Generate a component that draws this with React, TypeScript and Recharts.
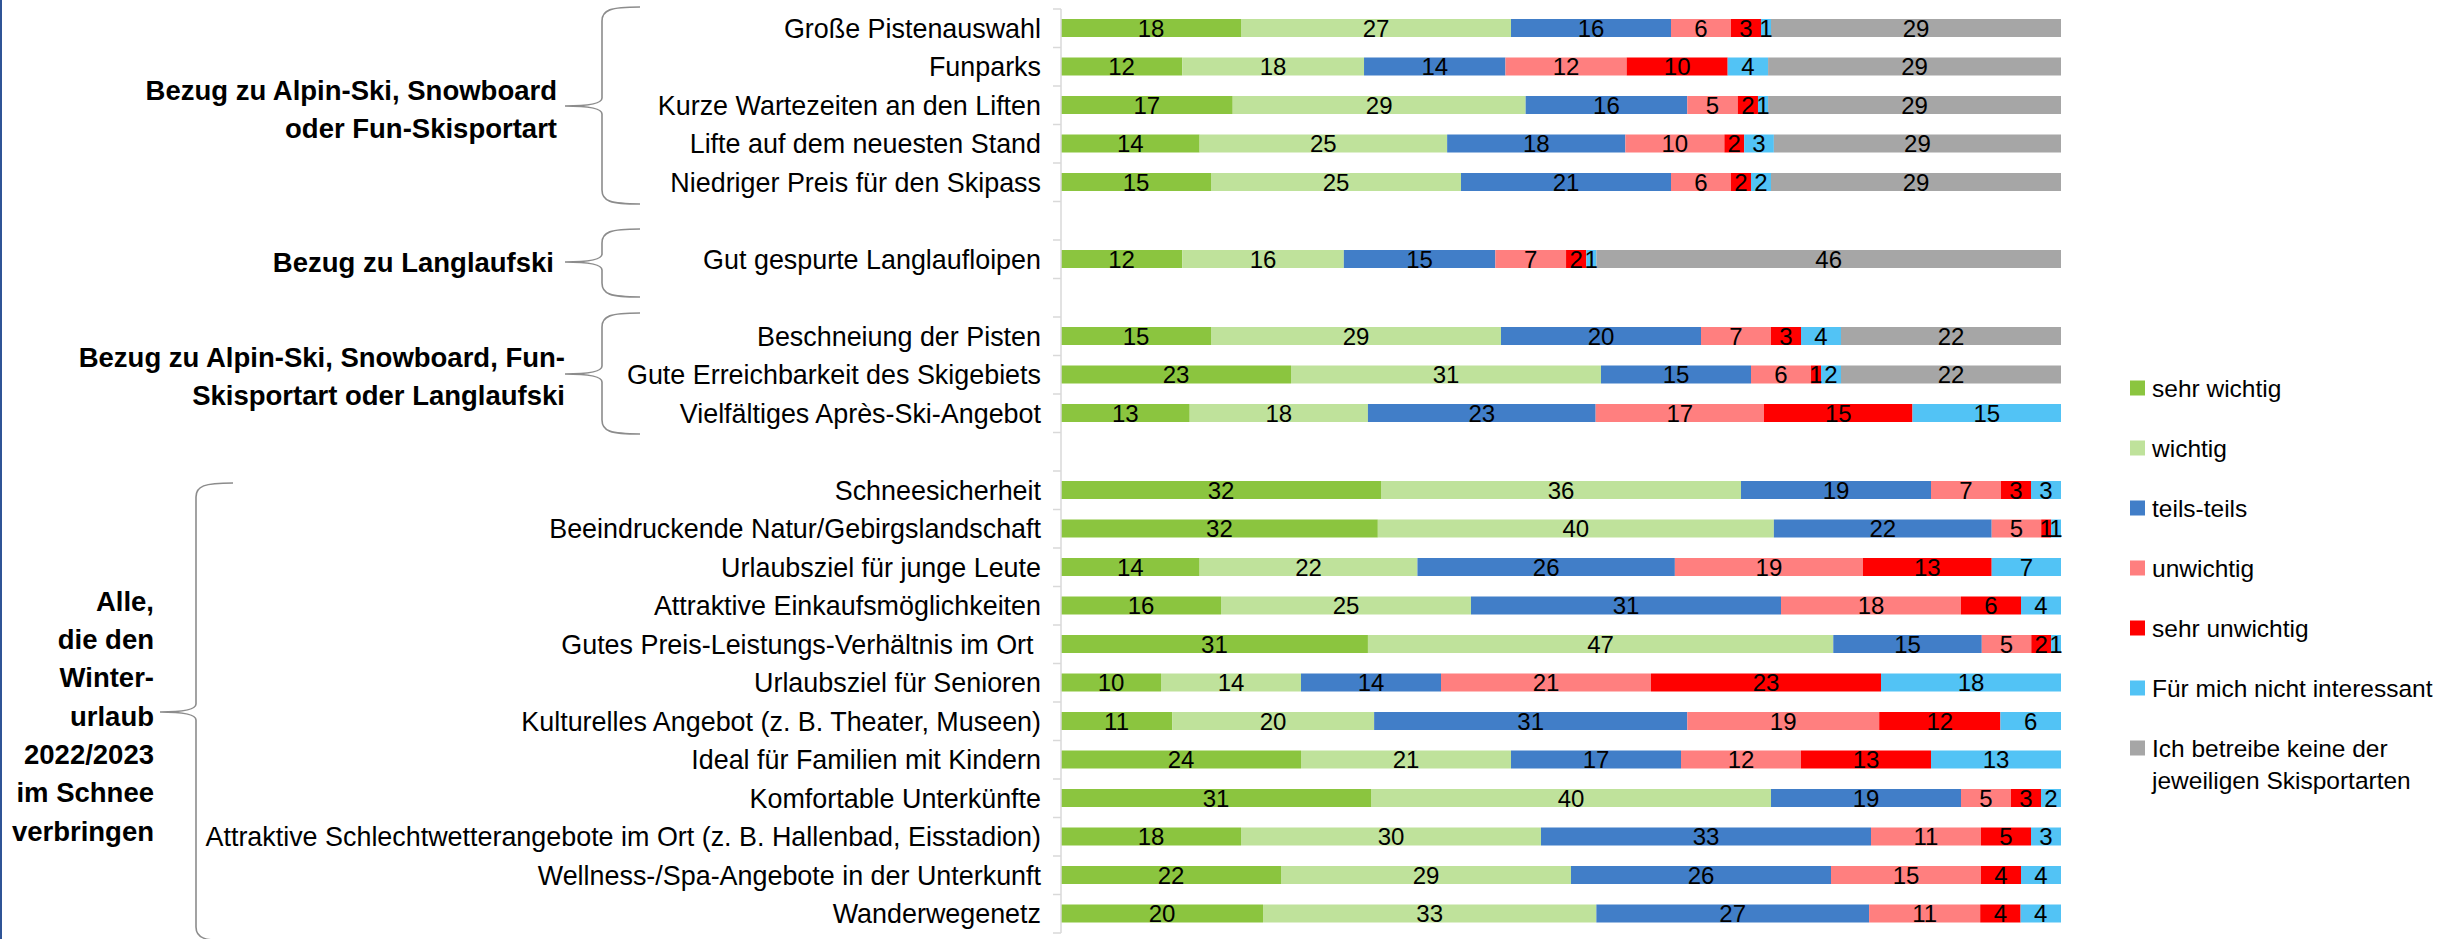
import React from "react";
import { BarChart, Bar, XAxis, YAxis, LabelList } from "recharts";

const categories = [
  "Große Pistenauswahl",
  "Funparks",
  "Kurze Wartezeiten an den Liften",
  "Lifte auf dem neuesten Stand",
  "Niedriger Preis für den Skipass",
  "",
  "Gut gespurte Langlaufloipen",
  "",
  "Beschneiung der Pisten",
  "Gute Erreichbarkeit des Skigebiets",
  "Vielfältiges Après-Ski-Angebot",
  "",
  "Schneesicherheit",
  "Beeindruckende Natur/Gebirgslandschaft",
  "Urlaubsziel für junge Leute",
  "Attraktive Einkaufsmöglichkeiten",
  "Gutes Preis-Leistungs-Verhältnis im Ort\u00A0",
  "Urlaubsziel für Senioren",
  "Kulturelles Angebot (z. B. Theater, Museen)",
  "Ideal für Familien mit Kindern",
  "Komfortable Unterkünfte",
  "Attraktive Schlechtwetterangebote im Ort (z. B. Hallenbad, Eisstadion)",
  "Wellness-/Spa-Angebote in der Unterkunft",
  "Wanderwegenetz",
];

const sehrWichtig = [18, 12, 17, 14, 15, null, 12, null, 15, 23, 13, null, 32, 32, 14, 16, 31, 10, 11, 24, 31, 18, 22, 20];
const wichtig = [27, 18, 29, 25, 25, null, 16, null, 29, 31, 18, null, 36, 40, 22, 25, 47, 14, 20, 21, 40, 30, 29, 33];
const teilsTeils = [16, 14, 16, 18, 21, null, 15, null, 20, 15, 23, null, 19, 22, 26, 31, 15, 14, 31, 17, 19, 33, 26, 27];
const unwichtig = [6, 12, 5, 10, 6, null, 7, null, 7, 6, 17, null, 7, 5, 19, 18, 5, 21, 19, 12, 5, 11, 15, 11];
const sehrUnwichtig = [3, 10, 2, 2, 2, null, 2, null, 3, 1, 15, null, 3, 1, 13, 6, 2, 23, 12, 13, 3, 5, 4, 4];
const nichtInteressant = [1, 4, 1, 3, 2, null, 1, null, 4, 2, 15, null, 3, 1, 7, 4, 1, 18, 6, 13, 2, 3, 4, 4];
const keineSkisportart = [29, 29, 29, 29, 29, null, 46, null, 22, 22, null, null, null, null, null, null, null, null, null, null, null, null, null, null];

const seriesNames = [
  "sehr wichtig",
  "wichtig",
  "teils-teils",
  "unwichtig",
  "sehr unwichtig",
  "Für mich nicht interessant",
  "Ich betreibe keine der jeweiligen Skisportarten",
];
const seriesKeys = ["sw", "w", "tt", "uw", "suw", "ni", "ks"];
const seriesValues = [sehrWichtig, wichtig, teilsTeils, unwichtig, sehrUnwichtig, nichtInteressant, keineSkisportart];
const seriesColors = ["#8BC53F", "#BFE29B", "#417EC8", "#FF7F7F", "#FF0000", "#52C3F5", "#A6A6A6"];

const groupLabels = [
  ["Bezug zu Alpin-Ski, Snowboard", "oder Fun-Skisportart"],
  ["Bezug zu Langlaufski"],
  ["Bezug zu Alpin-Ski, Snowboard, Fun-", "Skisportart oder Langlaufski"],
  ["Alle,", "die den", "Winter-", "urlaub", "2022/2023", "im Schnee", "verbringen"],
];

const data = categories.map((name, i) => {
  const row: Record<string, any> = { name };
  seriesKeys.forEach((k, s) => {
    row[k] = seriesValues[s][i];
  });
  return row;
});

const FONT = "'Liberation Sans', Arial, sans-serif";
const W = 2458;
const H = 939;
const PLOT_TOP = 9;
const PLOT_BOTTOM = 933;
const AXIS_X = 1061;
const PLOT_RIGHT = 2061;
const PITCH = (PLOT_BOTTOM - PLOT_TOP) / categories.length;
const CFS = 26.9;

function CategoryTick(props: any) {
  const { y, index } = props;
  const label = categories[index] ?? "";
  const isLast = index === categories.length - 1;
  return (
    <g>
      <line x1={AXIS_X - 8} x2={AXIS_X} y1={y - PITCH / 2} y2={y - PITCH / 2} stroke="#d9d9d9" strokeWidth={1.5} />
      {isLast && (
        <line x1={AXIS_X - 8} x2={AXIS_X} y1={y + PITCH / 2} y2={y + PITCH / 2} stroke="#d9d9d9" strokeWidth={1.5} />
      )}
      {label && (
        <text
          x={AXIS_X - 20}
          y={y + CFS * 0.355}
          textAnchor="end"
          fontSize={CFS}
          fontFamily={FONT}
          fill="#000"
          style={{ whiteSpace: "pre" }}
        >
          {label}
        </text>
      )}
    </g>
  );
}

function bracePath(xv: number, xr: number, top: number, bottom: number, xt: number, yt: number) {
  return [
    `M ${xr} ${top}`,
    `C ${xv + 8} ${top}, ${xv} ${top + 3}, ${xv} ${top + 14}`,
    `L ${xv} ${yt - 8}`,
    `C ${xv} ${yt - 3}, ${xv - 12} ${yt}, ${xt} ${yt}`,
    `C ${xv - 12} ${yt}, ${xv} ${yt + 3}, ${xv} ${yt + 8}`,
    `L ${xv} ${bottom - 14}`,
    `C ${xv} ${bottom - 3}, ${xv + 8} ${bottom}, ${xr} ${bottom}`,
  ].join(" ");
}

const braces = [
  { xv: 602, xr: 640, top: 7, bottom: 204, xt: 565, yt: 106 },
  { xv: 602, xr: 640, top: 229, bottom: 297, xt: 565, yt: 262 },
  { xv: 602, xr: 640, top: 313, bottom: 434, xt: 565, yt: 374 },
  { xv: 196, xr: 233, top: 483, bottom: 941, xt: 160, yt: 712 },
];

const groupLayout = [
  { right: 557, firstY: 90, step: 38 },
  { right: 554, firstY: 262, step: 38 },
  { right: 565, firstY: 357, step: 38 },
  { right: 154, firstY: 601, step: 38.3 },
];

export default function App() {
  const GFS = 27.5;
  const LFS = 24.5;
  return (
    <div style={{ position: "absolute", left: 0, top: 0, width: W, height: H, background: "#fff", fontFamily: FONT }}>
      <BarChart
        width={W}
        height={H}
        data={data}
        layout="vertical"
        stackOffset="expand"
        barSize={18}
        margin={{ top: PLOT_TOP, right: W - PLOT_RIGHT, bottom: H - PLOT_BOTTOM, left: 0 }}
      >
        <XAxis type="number" domain={[0, 1]} hide />
        <YAxis
          type="category"
          dataKey="name"
          width={AXIS_X}
          axisLine={{ stroke: "#d9d9d9", strokeWidth: 1.5 }}
          tickLine={false}
          interval={0}
          tick={(p: any) => <CategoryTick {...p} />}
        />
        {seriesKeys.map((k, s) => (
          <Bar key={k} dataKey={k} name={seriesNames[s]} stackId="a" fill={seriesColors[s]} isAnimationActive={false}>
            <LabelList dataKey={k} position="center" fill="#000" fontSize={24} fontFamily={FONT} />
          </Bar>
        ))}
      </BarChart>
      <svg width={W} height={H} style={{ position: "absolute", left: 0, top: 0, pointerEvents: "none" }}>
        <rect x={0} y={0} width={2} height={H} fill="#2F5496" />
        {braces.map((b, i) => (
          <path key={i} d={bracePath(b.xv, b.xr, b.top, b.bottom, b.xt, b.yt)} fill="none" stroke="#8c8c8c" strokeWidth={1.6} />
        ))}
        {groupLabels.map((lines, g) =>
          lines.map((ln, j) => (
            <text
              key={`${g}-${j}`}
              x={groupLayout[g].right}
              y={groupLayout[g].firstY + j * groupLayout[g].step + GFS * 0.358}
              textAnchor="end"
              fontSize={GFS}
              fontWeight="bold"
              fontFamily={FONT}
              fill="#000"
            >
              {ln}
            </text>
          ))
        )}
        {seriesNames.map((n, s) => {
          const cy = 388 + s * 60;
          const words = n === "Ich betreibe keine der jeweiligen Skisportarten" ? ["Ich betreibe keine der", "jeweiligen Skisportarten"] : [n];
          return (
            <g key={n}>
              <rect x={2130} y={cy - 7.5} width={15} height={15} fill={seriesColors[s]} />
              {words.map((w, j) => (
                <text key={j} x={2152} y={cy + 9 + j * 32} fontSize={LFS} fontFamily={FONT} fill="#000">
                  {w}
                </text>
              ))}
            </g>
          );
        })}
      </svg>
    </div>
  );
}
